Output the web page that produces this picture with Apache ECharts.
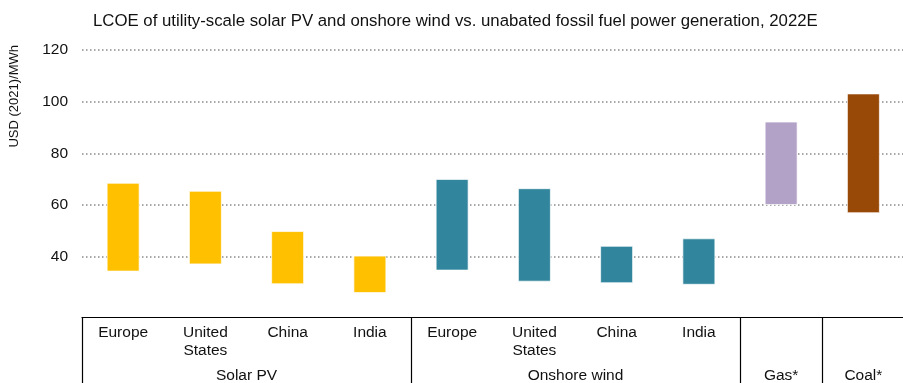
<!DOCTYPE html>
<html>
<head>
<meta charset="utf-8">
<script src="https://cdn.jsdelivr.net/npm/echarts@6/dist/echarts.min.js"></script>
<style>
html,body{margin:0;padding:0;background:#fff;overflow:hidden;}
#chart{width:903px;height:383px;}
</style>
</head>
<body>
<div id="chart"></div>
<script>
// ---- data ----
const titleText = 'LCOE of utility-scale solar PV and onshore wind vs. unabated fossil fuel power generation, 2022E';
const yAxisTitle = 'USD (2021)/MWh';
const categories = ['Europe', 'United\nStates', 'China', 'India', 'Europe', 'United\nStates', 'China', 'India', '', ''];
const groups = ['Solar PV', 'Onshore wind', 'Gas*', 'Coal*'];
const groupSpan = [4, 4, 1, 1];
const groupColors = ['#FFC000', '#31859C', '#B3A2C7', '#984807'];
const lowValues  = [34.2, 37.0, 29.3, 25.9, 34.6, 30.3, 29.7, 29.1, 60.0, 56.8];
const highValues = [68.6, 65.5, 49.9, 40.4, 70.1, 66.5, 44.2, 47.1, 92.3, 103.2];
const yMin = 20, yMax = 120, yStep = 20;

// ---- derived ----
const groupOf = [];
const groupCenters = [];
let start = 0;
groupSpan.forEach((n, g) => {
  for (let i = 0; i < n; i++) groupOf.push(g);
  groupCenters.push(start + n / 2);
  start += n;
});
const boundaryIdx = [];
start = 0;
groupSpan.forEach(n => { boundaryIdx.push(start); start += n; });
const spanValues = highValues.map((h, i) => +(h - lowValues[i]).toFixed(2));

const font = 'Liberation Sans, Arial, sans-serif';
const chart = echarts.init(document.getElementById('chart'), null, {renderer: 'canvas', width: 903, height: 383});
chart.setOption({
  animation: false,
  backgroundColor: '#fff',
  title: {
    text: titleText,
    left: 88,
    top: 8,
    textStyle: {fontFamily: font, fontSize: 16.8, fontWeight: 'normal', color: '#111'}
  },
  graphic: [{
    type: 'text',
    left: 8,
    top: 45,
    rotation: Math.PI / 2,
    style: {text: yAxisTitle, font: '13px ' + font, fill: '#111'}
  }],
  grid: {left: 82, right: -1.5, top: 50, bottom: 74.7, containLabel: false, outerBoundsMode: 'none'},
  xAxis: [{
    type: 'category',
    data: categories,
    position: 'bottom',
    offset: 9,
    boundaryGap: true,
    axisLine: {show: true, lineStyle: {color: '#000', width: 1.2}},
    axisTick: {
      show: true,
      length: 80,
      interval: (idx) => boundaryIdx.indexOf(idx) >= 0,
      lineStyle: {color: '#000', width: 1.2}
    },
    axisLabel: {
      interval: 0,
      margin: 6,
      fontFamily: font,
      fontSize: 15.5,
      lineHeight: 18,
      color: '#111',
      verticalAlign: 'top'
    },
    splitLine: {show: false}
  }, {
    type: 'value',
    min: 0,
    max: categories.length,
    interval: 0.5,
    position: 'bottom',
    offset: 9,
    axisLine: {show: false},
    axisTick: {show: false},
    splitLine: {show: false},
    axisLabel: {
      margin: 49,
      fontFamily: font,
      fontSize: 15.5,
      lineHeight: 18,
      color: '#111',
      verticalAlign: 'top',
      formatter: (v) => {
        const k = groupCenters.findIndex(c => Math.abs(c - v) < 1e-6);
        return k >= 0 ? groups[k] : '';
      }
    }
  }],
  yAxis: {
    type: 'value',
    min: yMin,
    max: yMax,
    interval: yStep,
    axisLine: {show: false},
    axisTick: {show: false},
    axisLabel: {
      showMinLabel: false,
      margin: 14,
      fontFamily: font,
      fontSize: 15.5,
      color: '#111'
    },
    splitLine: {
      show: true,
      showMinLine: false,
      lineStyle: {color: '#8a8a8a', width: 1.5, type: [1.5, 2.5]}
    }
  },
  series: [{
    type: 'bar',
    stack: 'range',
    xAxisIndex: 0,
    barWidth: 33,
    data: lowValues,
    itemStyle: {color: 'transparent'},
    emphasis: {disabled: true},
    silent: true
  }, {
    type: 'bar',
    stack: 'range',
    xAxisIndex: 0,
    barWidth: 33,
    data: spanValues,
    itemStyle: {
      color: (p) => groupColors[groupOf[p.dataIndex]],
      borderColor: 'rgba(255,255,255,0.7)',
      borderWidth: 1
    }
  }]
});
</script>
</body>
</html>
